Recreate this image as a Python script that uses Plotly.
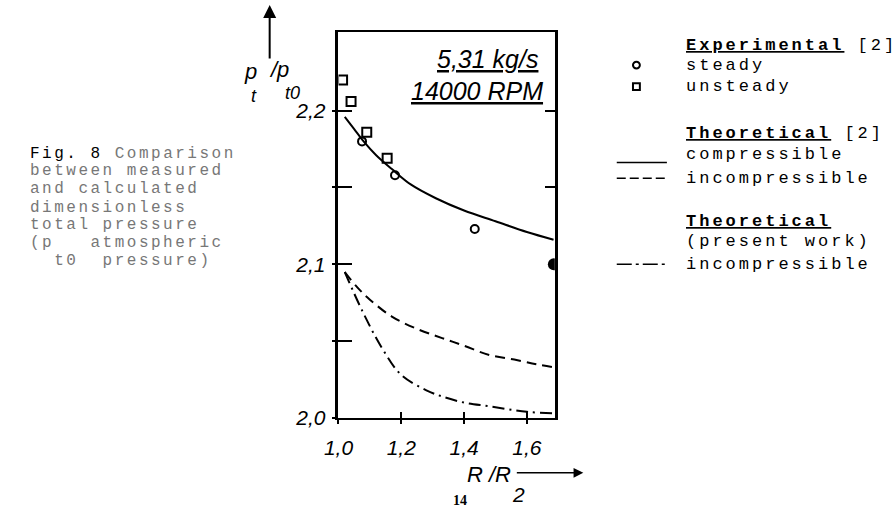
import plotly.graph_objects as go

W, H = 896, 520

# ---------------- data ----------------
compressible_x = [1.02, 1.05, 1.08, 1.12, 1.17, 1.23, 1.31, 1.40, 1.50, 1.60, 1.685]
compressible_y = [2.196, 2.188, 2.180, 2.171, 2.162, 2.152, 2.143, 2.135, 2.128, 2.121, 2.116]

incompressible_ref_x = [1.02, 1.06, 1.10, 1.17, 1.25, 1.33, 1.40, 1.48, 1.56, 1.63, 1.685]
incompressible_ref_y = [2.095, 2.085, 2.077, 2.066, 2.058, 2.052, 2.047, 2.041, 2.038, 2.035, 2.033]

present_x = [1.02, 1.075, 1.14, 1.20, 1.28, 1.33, 1.40, 1.48, 1.60, 1.685]
present_y = [2.095, 2.070, 2.045, 2.028, 2.018, 2.014, 2.010, 2.0076, 2.004, 2.003]

steady_x = [1.075, 1.18, 1.434]
steady_y = [2.180, 2.158, 2.123]

unsteady_x = [1.013, 1.04, 1.09, 1.155]
unsteady_y = [2.220, 2.206, 2.186, 2.169]

filled_x = [1.686]
filled_y = [2.100]

x_ticks = [1.0, 1.2, 1.4, 1.6]
y_ticks = [2.0, 2.05, 2.1, 2.15, 2.2]
y_ticktext = ["2,0", "", "2,1", "", "2,2"]
right_ticks = [2.15, 2.2]

caption_lines = ["Fig. 8 Comparison", "between measured", "and calculated",
                 "dimensionless", "total pressure", "(p   atmospheric", "  t0  pressure)"]

# ---------------- helpers ----------------
def px(x):
    return x / W

def py(y):
    return 1 - y / H

XR = [1.0, 1.689]
YR = [2.0, 2.251]
XD = [px(329), px(549)]
YD = [py(427), py(33)]

fig = go.Figure()

fig.add_trace(go.Scatter(x=compressible_x, y=compressible_y, mode="lines",
                         line=dict(color="black", width=2, shape="spline"),
                         name="compressible"))
fig.add_trace(go.Scatter(x=incompressible_ref_x, y=incompressible_ref_y, mode="lines",
                         line=dict(color="black", width=2, shape="spline", dash="10px,6px"),
                         name="incompressible [2]"))
fig.add_trace(go.Scatter(x=present_x, y=present_y, mode="lines",
                         line=dict(color="black", width=2, shape="spline", dash="12px,5px,2px,5px"),
                         name="incompressible (present work)"))
fig.add_trace(go.Scatter(x=steady_x, y=steady_y, mode="markers",
                         marker=dict(symbol="circle-open", size=8, color="black", line=dict(width=2)),
                         name="steady"))
fig.add_trace(go.Scatter(x=unsteady_x, y=unsteady_y, mode="markers",
                         marker=dict(symbol="square-open", size=9, color="black", line=dict(width=2)),
                         name="unsteady"))
fig.add_trace(go.Scatter(x=filled_x, y=filled_y, mode="markers",
                         marker=dict(symbol="circle", size=12, color="black"),
                         cliponaxis=True, name="point"))

tickfont = dict(family="Liberation Sans", size=21, color="black", style="italic")

fig.update_layout(
    width=W, height=H,
    margin=dict(l=0, r=0, t=0, b=0),
    paper_bgcolor="white", plot_bgcolor="white",
    showlegend=False,
    separators=",.",
    xaxis=dict(domain=XD, range=XR, tickvals=x_ticks, tickformat=".1f",
               ticks="inside", ticklen=6, tickwidth=2, tickcolor="black",
               showline=True, linewidth=2, linecolor="black", mirror=True,
               showgrid=False, zeroline=False, tickfont=tickfont,
               ticklabelstandoff=10),
    xaxis2=dict(domain=XD, range=XR, overlaying="x", anchor="y", tickvals=x_ticks,
                ticks="outside", ticklen=5, tickwidth=2, tickcolor="black",
                showticklabels=False, showline=False, showgrid=False, zeroline=False),
    yaxis=dict(domain=YD, range=YR, tickvals=y_ticks, ticktext=y_ticktext,
               ticks="inside", ticklen=14, tickwidth=2, tickcolor="black",
               showline=True, linewidth=2.5, linecolor="black", mirror=True,
               showgrid=False, zeroline=False, tickfont=tickfont,
               ticklabelstandoff=6),
    yaxis2=dict(domain=YD, range=YR, overlaying="y", anchor="x", side="left",
                tickvals=y_ticks, ticks="outside", ticklen=5, tickwidth=2,
                tickcolor="black", showticklabels=False, showline=False,
                showgrid=False, zeroline=False),
    yaxis3=dict(domain=YD, range=YR, overlaying="y", anchor="x", side="right",
                tickvals=right_ticks, ticks="inside", ticklen=10, tickwidth=2,
                tickcolor="black", showticklabels=False, showline=False,
                showgrid=False, zeroline=False),
)

# invisible traces to activate overlay axes
fig.add_trace(go.Scatter(x=[None], y=[None], xaxis="x2", yaxis="y", showlegend=False))
fig.add_trace(go.Scatter(x=[None], y=[None], xaxis="x", yaxis="y2", showlegend=False))
fig.add_trace(go.Scatter(x=[None], y=[None], xaxis="x", yaxis="y3", showlegend=False))

ann = []

def text(x, y, s, size=20, family="Liberation Sans", xanchor="center", color="black",
         style="normal", weight="normal"):
    ann.append(dict(xref="paper", yref="paper", x=px(x), y=py(y), text=s, showarrow=False,
                    xanchor=xanchor, yanchor="middle",
                    font=dict(family=family, size=size, color=color, style=style, weight=weight)))

# y-axis title p_t / p_t0
text(240, 73, "p", size=22, style="italic")
text(243, 98, "t", size=18, style="italic")
text(269, 71, "/p", size=22, style="italic")
text(282, 95, "t0", size=18, style="italic")
ann.append(dict(xref="paper", yref="paper", x=px(259), y=py(5), ax=0, ay=55, text="",
                showarrow=True, arrowhead=2, arrowsize=1.3, arrowwidth=2, arrowcolor="black"))

# x-axis title R/R2 with arrow
text(482, 485, "R /R", size=22, style="italic")
text(512, 505, "2", size=21, style="italic")
ann.append(dict(xref="paper", yref="paper", x=px(578), y=py(483), ax=-68, ay=0, text="",
                showarrow=True, arrowhead=2, arrowsize=1.3, arrowwidth=1.5, arrowcolor="black"))

# box text
text(481, 60, "<u>5,31 kg/s</u>", size=25, style="italic")
text(470, 93, "<u>14000 RPM</u>", size=25, style="italic")

# page number
text(453, 511, "<b>14</b>", size=14, family="Liberation Serif")

# caption
mono = "Liberation Mono"
cap_y = [157, 175, 193, 212, 230, 248, 267]
for i, (s, yy) in enumerate(zip(caption_lines, cap_y)):
    if i == 0:
        s2 = '<span style="letter-spacing:2.5px">Fig. 8 <span style="fill:#777">Comparison</span></span>'
    else:
        s2 = '<span style="letter-spacing:2.5px">' + s.replace(" ", "&nbsp;") + '</span>'
    text(13, yy, s2, size=16, family=mono, xanchor="left", color="#777" if i else "black")

# legend
LX = 680
def ltext(y, s):
    s2 = '<span style="letter-spacing:3px">' + s + '</span>'
    text(LX, y, s2, size=17, family=mono, xanchor="left")

ltext(46, "<b><u>Experimental</u></b> [2]")
ltext(67, "steady")
ltext(88, "unsteady")
ltext(136, "<b><u>Theoretical</u></b> [2]")
ltext(158, "compressible")
ltext(182, "incompressible")
ltext(226, "<b><u>Theoretical</u></b>")
ltext(247, "(present&nbsp;work)")
ltext(270, "incompressible")

shapes = [
    dict(type="circle", xref="paper", yref="paper", x0=px(628.5), x1=px(635.5),
         y0=py(70), y1=py(63), line=dict(color="black", width=2)),
    dict(type="rect", xref="paper", yref="paper", x0=px(628.5), x1=px(635.5),
         y0=py(92), y1=py(85), line=dict(color="black", width=2)),
    dict(type="line", xref="paper", yref="paper", x0=px(612), x1=px(663),
         y0=py(166), y1=py(166), line=dict(color="black", width=1.5)),
    dict(type="line", xref="paper", yref="paper", x0=px(612), x1=px(663),
         y0=py(182), y1=py(182), line=dict(color="black", width=1.5, dash="9px,4px")),
    dict(type="line", xref="paper", yref="paper", x0=px(612), x1=px(663),
         y0=py(270), y1=py(270), line=dict(color="black", width=1.5, dash="15px,4px,3px,4px")),
]

fig.update_layout(annotations=ann, shapes=shapes)
fig.write_html("out.html", config={"displayModeBar": False},
               post_script="document.body.style.margin='0';document.body.style.overflow='hidden';")
